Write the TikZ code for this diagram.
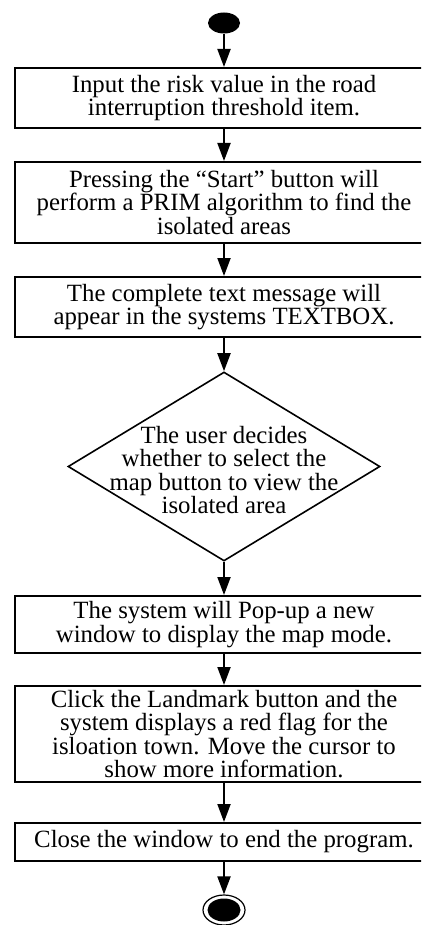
\documentclass[tikz,border=0pt]{standalone}
\usepackage{fontspec}
\setmainfont{Liberation Serif}
\usetikzlibrary{arrows.meta,shapes.geometric}
\begin{document}
\begin{tikzpicture}[x=1pt,y=-1pt,
  lbl/.style={align=center, inner sep=0pt, font=\fontsize{24.8}{23.3}\selectfont},
  box/.style={lbl, draw, line width=2pt, minimum width=418pt},
  arr/.style={line width=2pt, -{Triangle[length=18pt,width=13pt]}}]
\useasboundingbox (0,0) rectangle (421,925);
\clip (0,0) rectangle (421,925);

\node[fill, ellipse, minimum width=32pt, minimum height=21pt, inner sep=0pt] (start) at (224,23) {};

\node[box, minimum height=60pt] (b1) at (224,98) {Input the risk value in the road\\interruption threshold item.};
\node[box, minimum height=81pt] (b2) at (224,202.5) {Pressing the ``Start'' button will\\perform a PRIM algorithm to find the\\isolated areas};
\node[box, minimum height=60pt] (b3) at (224,307) {The complete text message will\\appear in the systems TEXTBOX.};
\node[draw, diamond, line width=1.6pt, minimum width=312pt, minimum height=189pt, inner sep=0pt] (d) at (224,466.5) {};
\node[lbl] (dt) at (224,470) {The user decides\\whether to select the\\map button to view the\\isolated area};
\node[box, minimum height=57pt] (b5) at (224,624.5) {The system will Pop-up a new\\window to display the map mode.};
\node[box, minimum height=96pt] (b6) at (224,734) {Click the Landmark button and the\\system displays a red flag for the\\isloation town. Move the cursor to\\show more information.};
\node[box, minimum height=38pt] (b7) at (224,842) {Close the window to end the program.};

\node[draw, ellipse, line width=1.2pt, minimum width=42pt, minimum height=30pt, inner sep=0pt] (end) at (224,910) {};
\node[fill, ellipse, minimum width=33pt, minimum height=23pt, inner sep=0pt] (endc) at (end.center) {};

\draw[arr] (start.south) -- (b1.north);
\draw[arr] (b1.south) -- (b2.north);
\draw[arr] (b2.south) -- (b3.north);
\draw[arr] (b3.south) -- (d.north);
\draw[arr] (d.south) -- (b5.north);
\draw[arr] (b5.south) -- (b6.north);
\draw[arr] (b6.south) -- (b7.north);
\draw[arr] (b7.south) -- (end.north);
\end{tikzpicture}
\end{document}
